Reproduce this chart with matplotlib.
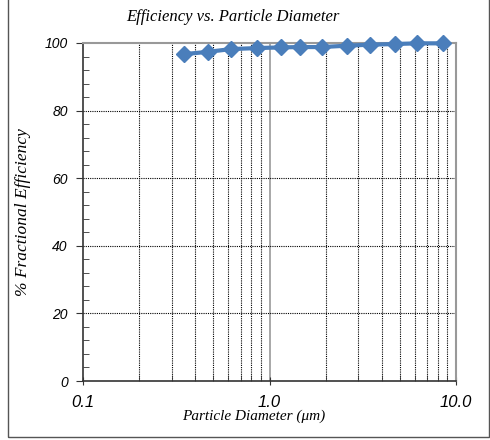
import matplotlib
matplotlib.use("Agg")
import matplotlib.pyplot as plt
from matplotlib.ticker import FixedLocator, NullFormatter
from matplotlib.patches import Rectangle

diameter = [0.348, 0.470, 0.622, 0.853, 1.153, 1.457, 1.905, 2.594, 3.457, 4.73, 6.2, 8.48]
efficiency = [96.7, 97.4, 98.2, 98.5, 98.7, 98.8, 98.8, 99.2, 99.5, 99.7, 99.9, 99.9]
x_tick_vals = [0.1, 1.0, 10.0]
x_tick_labels = ["0.1", "1.0", "10.0"]
y_tick_vals = [0, 20, 40, 60, 80, 100]

fig = plt.figure(figsize=(4.9, 4.4), dpi=100)
ax = fig.add_axes([83/490, 1-381/440, (456-83)/490, (381-43)/440])

# figure border
fig.patches.append(Rectangle((8/490, 3/440), (489-8)/490, 1.2, transform=fig.transFigure,
                             fill=False, edgecolor="#555555", lw=1.0))

ax.set_xscale("log")
ax.set_xlim(0.1, 10)
ax.set_ylim(0, 100)

minor_x = [m * d for d in (0.1, 1.0) for m in range(2, 10)]
ax.xaxis.set_major_locator(FixedLocator(x_tick_vals))
ax.xaxis.set_minor_locator(FixedLocator(minor_x))
ax.xaxis.set_minor_formatter(NullFormatter())
ax.set_xticklabels(x_tick_labels, fontstyle="italic", fontfamily="Liberation Sans", fontsize=12)

ax.yaxis.set_major_locator(FixedLocator(y_tick_vals))
ax.yaxis.set_minor_locator(FixedLocator([v for v in range(0, 101, 4) if v % 20 != 0]))
ax.set_yticklabels([str(v) for v in y_tick_vals], fontstyle="italic", fontfamily="Liberation Sans", fontsize=10)

for x in minor_x:
    ax.axvline(x, color="black", lw=0.8, ls=(0, (1, 1)), zorder=1)
ax.axvline(1.0, color="#999999", lw=1.2, zorder=1)
for y in [20, 40, 60, 80]:
    ax.axhline(y, color="black", lw=0.8, ls=(0, (1, 1)), zorder=1)

ax.tick_params(axis="x", which="major", direction="inout", length=6, color="#333333", pad=7)
ax.tick_params(axis="x", which="minor", direction="in", length=4, color="#333333")
ax.tick_params(axis="y", which="major", direction="out", length=5, color="#333333", pad=6)
ax.tick_params(axis="y", which="minor", direction="in", length=4, color="#333333")

for s in ["left", "bottom"]:
    ax.spines[s].set_color("#333333")
    ax.spines[s].set_linewidth(1.2)
for s in ["top", "right"]:
    ax.spines[s].set_color("#999999")
    ax.spines[s].set_linewidth(1.5)

ax.plot(diameter, efficiency, color="#4A7EBB", lw=3, marker="D", markersize=8.5,
        markerfacecolor="#4A7EBB", markeredgecolor="#4A7EBB", zorder=5, clip_on=False)

fig.text(233/490, 1-17/440, "Efficiency vs. Particle Diameter", ha="center", va="center",
         fontfamily="Liberation Serif", fontstyle="italic", fontsize=12)
fig.text(254/490, 1-416/440, "Particle Diameter (\u03bcm)", ha="center", va="center",
         fontfamily="Liberation Serif", fontstyle="italic", fontsize=11)
fig.text(23/490, 1-212/440, "% Fractional Efficiency", ha="center", va="center", rotation=90,
         fontfamily="Liberation Serif", fontstyle="italic", fontsize=12.5)

fig.savefig("out.png", dpi=100)
